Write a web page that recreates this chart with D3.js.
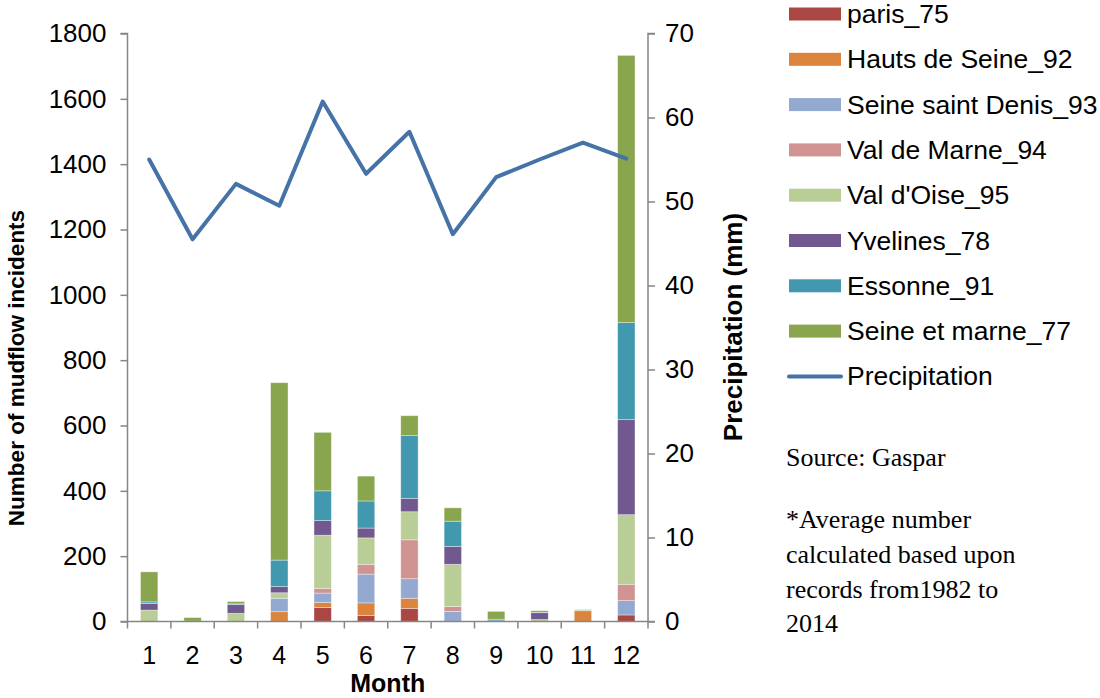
<!DOCTYPE html>
<html>
<head>
<meta charset="utf-8">
<script src="https://cdn.jsdelivr.net/npm/d3@7"></script>
<style>
  html, body { margin: 0; padding: 0; background: #fff; }
  svg { display: block; }
</style>
</head>
<body>
<svg id="chart" width="1100" height="698"></svg>
<script>
const months = ["1","2","3","4","5","6","7","8","9","10","11","12"];
const seriesNames = ["paris_75","Hauts de Seine_92","Seine saint Denis_93","Val de Marne_94","Val d'Oise_95","Yvelines_78","Essonne_91","Seine et marne_77"];
const paris75      = [0, 0, 0, 0, 43, 18, 40, 0, 0, 0, 0, 20];
const hautsDeSeine92 = [0, 0, 0, 30, 15, 39, 31, 0, 0, 0, 33, 0];
const seineStDenis93 = [0, 0, 0, 41, 29, 88, 60, 31, 2, 0, 0, 44];
const valDeMarne94 = [0, 0, 0, 0, 14, 30, 119, 15, 0, 0, 0, 50];
const valDOise95   = [35, 1, 25, 17, 163, 81, 86, 129, 0, 6, 4, 213];
const yvelines78   = [20, 0, 27, 19, 45, 30, 41, 55, 0, 21, 0, 291];
const essonne91    = [5, 0, 2, 81, 91, 83, 192, 77, 5, 1, 0, 297];
const seineEtMarne77 = [92, 11, 7, 543, 179, 76, 61, 41, 24, 5, 0, 818];
const precipitation = [55.0, 45.5, 52.1, 49.5, 61.9, 53.3, 58.3, 46.1, 52.9, 55.0, 57.0, 55.1];
const leftTicks = [0, 200, 400, 600, 800, 1000, 1200, 1400, 1600, 1800];
const rightTicks = [0, 10, 20, 30, 40, 50, 60, 70];

const seriesValues = [paris75, hautsDeSeine92, seineStDenis93, valDeMarne94, valDOise95, yvelines78, essonne91, seineEtMarne77];
const colors = ["#AA4643","#DB843D","#93A9CF","#D19392","#B9CD96","#71588F","#4198AF","#89A54E"];
const lineColor = "#4572A7";

const svg = d3.select("#chart");
const X0 = 127.5, X1 = 648, Y0 = 621.5, Y1 = 33.5;
const axisColor = "#868686";
const font = "'Liberation Sans', Arial, sans-serif";
const tickFont = 26;

const x = d3.scaleBand().domain(months).range([X0, X1]).padding(0);
const yL = d3.scaleLinear().domain([0, 1800]).range([Y0, Y1]);
const yR = d3.scaleLinear().domain([0, 70]).range([Y0, Y1]);

const table = months.map((m, i) => {
  const o = { month: m };
  seriesNames.forEach((s, k) => o[s] = seriesValues[k][i]);
  return o;
});
const stack = d3.stack().keys(seriesNames)(table);

const bw = x.bandwidth() * 0.4;
const g = svg.append("g");
stack.forEach((layer, k) => {
  g.selectAll(null).data(layer).enter().append("rect")
    .attr("x", d => x(d.data.month) + x.bandwidth() * 0.5 - bw / 2)
    .attr("y", d => yL(d[1]))
    .attr("width", bw)
    .attr("height", d => Math.max(0, yL(d[0]) - yL(d[1])))
    .attr("fill", colors[k])
    .attr("stroke", "#ffffff")
    .attr("stroke-opacity", 0.45)
    .attr("stroke-width", 0.8);
});

const axL = d3.axisLeft(yL).tickValues(leftTicks).tickFormat(d3.format("d")).tickSize(7).tickPadding(14);
const axR = d3.axisRight(yR).tickValues(rightTicks).tickFormat(d3.format("d")).tickSize(7).tickPadding(10);
const axB = d3.axisBottom(x).tickValues([]).tickSize(0);

const gL = svg.append("g").attr("transform", `translate(${X0},0)`).call(axL);
const gR = svg.append("g").attr("transform", `translate(${X1},0)`).call(axR);
const gB = svg.append("g").attr("transform", `translate(0,${Y0})`).call(axB);

const bounds = months.map(m => x(m)).concat([X1]);
svg.append("g").selectAll("line").data(bounds).enter().append("line")
  .attr("x1", d => d).attr("x2", d => d)
  .attr("y1", Y0).attr("y2", Y0 + 7)
  .attr("stroke", axisColor).attr("stroke-width", 1.5);
svg.append("g").selectAll("text").data(months).enter().append("text")
  .attr("x", d => x(d) + x.bandwidth() / 2)
  .attr("y", 664)
  .attr("text-anchor", "middle")
  .attr("font-family", font).attr("font-size", 25).attr("fill", "#000")
  .text(d => d);

[gL, gR, gB].forEach(a => {
  a.selectAll(".domain").attr("stroke", axisColor).attr("stroke-width", 1.5);
  a.selectAll(".tick line").attr("stroke", axisColor).attr("stroke-width", 1.5);
  a.selectAll(".tick text").attr("font-family", font).attr("font-size", tickFont).attr("fill", "#000");
});
gL.select(".domain").attr("d", `M-7,${Y1}H0V${Y0}H-7`);
gR.select(".domain").attr("d", `M7,${Y1}H0V${Y0}H7`);
gB.select(".domain").attr("d", `M${X0},0H${X1}`);

const line = d3.line()
  .x((d, i) => x(months[i]) + x.bandwidth() / 2)
  .y(d => yR(d));
svg.append("path").datum(precipitation)
  .attr("d", line)
  .attr("fill", "none")
  .attr("stroke", lineColor)
  .attr("stroke-width", 4)
  .attr("stroke-linejoin", "round")
  .attr("stroke-linecap", "round");

svg.append("text")
  .attr("transform", `translate(24,368) rotate(-90)`)
  .attr("text-anchor", "middle")
  .attr("font-family", font).attr("font-weight", "bold").attr("font-size", 22.5)
  .text("Number of mudflow incidents");
svg.append("text")
  .attr("transform", `translate(742,327) rotate(-90)`)
  .attr("text-anchor", "middle")
  .attr("font-family", font).attr("font-weight", "bold").attr("font-size", 26)
  .text("Precipitation (mm)");
svg.append("text")
  .attr("x", (X0 + X1) / 2).attr("y", 692)
  .attr("text-anchor", "middle")
  .attr("font-family", font).attr("font-weight", "bold").attr("font-size", 25)
  .text("Month");

const legendNames = seriesNames.concat(["Precipitation"]);
const lg = svg.append("g");
legendNames.forEach((name, i) => {
  const cy = 14 + i * 45.3;
  if (i < seriesNames.length) {
    lg.append("rect").attr("x", 789).attr("y", cy - 6.5).attr("width", 52).attr("height", 13).attr("fill", colors[i]);
  } else {
    lg.append("line").attr("x1", 789).attr("x2", 841).attr("y1", cy).attr("y2", cy)
      .attr("stroke", lineColor).attr("stroke-width", 4).attr("stroke-linecap", "round");
  }
  lg.append("text").attr("x", 847).attr("y", cy + 9)
    .attr("font-family", font).attr("font-size", 26.5).attr("fill", "#000")
    .text(name);
});

const serif = "'Liberation Serif', 'Times New Roman', serif";
const notes = [["Source: Gaspar", 466], ["*Average number", 528.3], ["calculated based upon", 563.3], ["records from1982 to", 597.8], ["2014", 632.3]];
svg.append("g").selectAll("text").data(notes).enter().append("text")
  .attr("x", 786).attr("y", d => d[1])
  .attr("font-family", serif).attr("font-size", 26).attr("fill", "#000")
  .text(d => d[0]);
</script>
</body>
</html>
